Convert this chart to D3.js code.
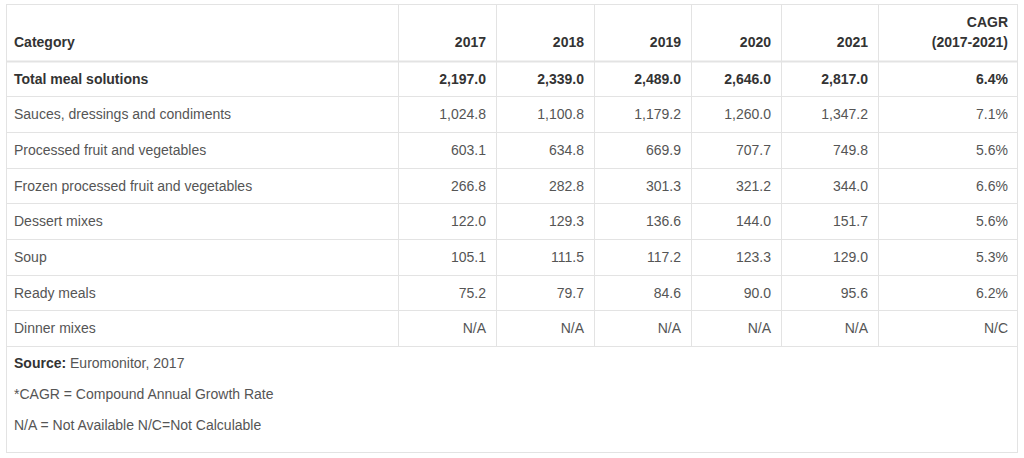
<!DOCTYPE html><html><head><meta charset="utf-8">
<script src="https://cdn.jsdelivr.net/npm/d3@7"></script>
<style>body{margin:0;background:#fff}text{font-family:"Liberation Sans",Arial,sans-serif;font-size:14px}</style>
</head><body><svg id="c" width="1024" height="458"></svg>
<script>
const columns=["Category","2017","2018","2019","2020","2021","CAGR|(2017-2021)"];
const categories=["Total meal solutions","Sauces, dressings and condiments","Processed fruit and vegetables","Frozen processed fruit and vegetables","Dessert mixes","Soup","Ready meals","Dinner mixes"];
const v2017=["2,197.0","1,024.8","603.1","266.8","122.0","105.1","75.2","N/A"];
const v2018=["2,339.0","1,100.8","634.8","282.8","129.3","111.5","79.7","N/A"];
const v2019=["2,489.0","1,179.2","669.9","301.3","136.6","117.2","84.6","N/A"];
const v2020=["2,646.0","1,260.0","707.7","321.2","144.0","123.3","90.0","N/A"];
const v2021=["2,817.0","1,347.2","749.8","344.0","151.7","129.0","95.6","N/A"];
const cagr=["6.4%","7.1%","5.6%","6.6%","5.6%","5.3%","6.2%","N/C"];
const notes=[["Source:"," Euromonitor, 2017"],["","*CAGR = Compound Annual Growth Rate"],["","N/A = Not Available N/C=Not Calculable"]];
const svg=d3.select("#c");
const colEdges=[6,398,496,594,691,781,878,1018];
const rowEdges=[4,61,96,132,168,203,239,275,310,346];
const line="#e3e3e3";
svg.append("rect").attr("x",6.5).attr("y",4.5).attr("width",1011).attr("height",448).attr("fill","none").attr("stroke",line);
svg.selectAll(".h").data(rowEdges.slice(1)).join("line").attr("x1",6).attr("x2",1018).attr("y1",d=>d+.5).attr("y2",d=>d+.5).attr("stroke",line).attr("stroke-width",d=>d==61?2:1);
svg.selectAll(".v").data(colEdges.slice(1,-1)).join("line").attr("x1",d=>d+.5).attr("x2",d=>d+.5).attr("y1",4).attr("y2",346).attr("stroke",line);
// header
columns.forEach((c,i)=>{const parts=c.split("|");const t=svg.append("text").attr("font-weight","bold").attr("fill","#333")
 .attr("text-anchor",i==0?"start":"end").attr("x",i==0?14:colEdges[i+1]-10);
 parts.forEach((p,j)=>t.append("tspan").attr("x",i==0?14:colEdges[i+1]-10).attr("y",47-(parts.length-1-j)*20).text(p));});
const cols=[v2017,v2018,v2019,v2020,v2021,cagr];
categories.forEach((cat,r)=>{const y=(rowEdges[r+1]+rowEdges[r+2])/2+5;const b=r==0;
 svg.append("text").attr("x",14).attr("y",y).attr("fill",b?"#333":"#555").attr("font-weight",b?"bold":"normal").text(cat);
 cols.forEach((arr,i)=>svg.append("text").attr("x",colEdges[i+2]-10).attr("y",y).attr("text-anchor","end").attr("fill",b?"#333":"#555").attr("font-weight",b?"bold":"normal").text(arr[r]));});
notes.forEach((n,i)=>{const t=svg.append("text").attr("x",14).attr("y",368+i*31).attr("fill","#555");
 if(n[0])t.append("tspan").attr("font-weight","bold").attr("fill","#333").text(n[0]);t.append("tspan").text(n[1]);});
</script></body></html>
